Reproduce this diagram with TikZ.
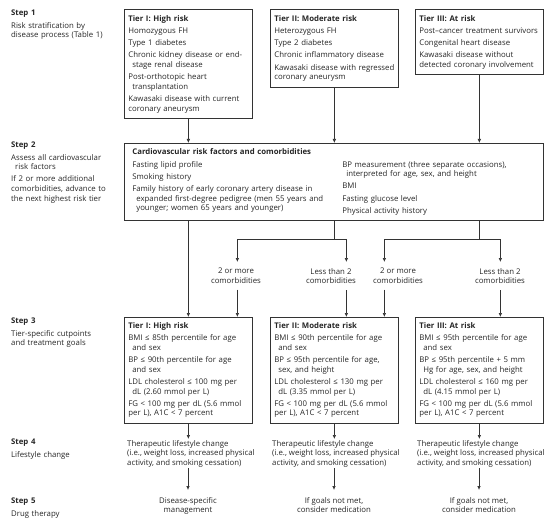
\documentclass[tikz,border=0pt]{standalone}
\usepackage{fontspec}
\setmainfont{Open Sans}
\usetikzlibrary{arrows.meta}
\newlength\itmgap
\setlength\itmgap{2.6bp}
\newcommand\itm{\par\vskip\itmgap\hangindent=4bp\hangafter=1\relax}
\newcommand\itmflat{\par\vskip\itmgap\relax}
\newcommand\boxfont{\fontsize{7.8bp}{9.6bp}\selectfont}
\tikzset{
  tierbox/.style={draw=black!80, line width=0.7bp, anchor=north west, align=left, text width=120bp, inner xsep=4bp, inner ysep=5.5bp, font=\boxfont, text=black!85},
  cvbox/.style={tierbox, text width=403bp, inner xsep=8bp},
  steplbl/.style={anchor=north west, align=left, text width=112bp, inner sep=0pt, font=\boxfont, text=black!85},
  choice/.style={anchor=north, align=center, inner xsep=0pt, inner ysep=6bp, font=\boxfont, text=black!85},
  lifestyle/.style={anchor=north west, align=left, inner xsep=0pt, inner ysep=1bp, font=\boxfont, text=black!85},
  drug/.style={anchor=north, align=center, inner xsep=0pt, inner ysep=7bp, font=\boxfont, text=black!85},
  flow/.style={-{Latex[length=4bp,width=3.6bp]}, draw=black!80, line width=0.7bp},
}
\begin{document}
\begin{tikzpicture}[x=1bp, y=-1bp]
  \useasboundingbox (0,0) rectangle (550,526);
  % step labels
  \node[steplbl] (s1) at (11,10) {\textbf{Step 1}\itmflat Risk stratification by\newline disease process (Table 1)};
  \node[steplbl] (s2) at (11,142) {\textbf{Step 2}\itm Assess all cardiovascular\newline risk factors\itm If 2 or more additional\newline comorbidities, advance to\newline the next highest risk tier};
  \node[steplbl] (s3) at (11,318) {\textbf{Step 3}\itmflat Tier-specific cutpoints\newline and treatment goals};
  \node[steplbl] (s4) at (11,439) {\textbf{Step 4}\itmflat Lifestyle change};
  \node[steplbl] (s5) at (11,498) {\textbf{Step 5}\itmflat Drug therapy};
  % step 1
  \node[tierbox] (r1) at (124,9.5) {\textbf{Tier I: High risk}\itm Homozygous FH\itm Type 1 diabetes\itm Chronic kidney disease or end-\newline stage renal disease\itm Post-orthotopic heart\newline transplantation\itm Kawasaki disease with current\newline coronary aneurysm};
  \node[tierbox] (r2) at (270,9.5) {\textbf{Tier II: Moderate risk}\itmflat Heterozygous FH\itmflat Type 2 diabetes\itmflat Chronic inflammatory disease\itmflat \mbox{Kawasaki disease with regressed}\newline coronary aneurysm};
  \node[tierbox] (r3) at (415,9.5) {\textbf{Tier III: At risk}\itmflat Post–cancer treatment survivors\itmflat Congenital heart disease\itmflat Kawasaki disease without\newline detected coronary involvement};
  % step 2
  \node[cvbox] (cv) at (124,143) {\textbf{Cardiovascular risk factors and comorbidities}\par\vskip\itmgap
    \noindent\parbox[t]{210bp}{\hangindent=4bp\hangafter=1 Fasting lipid profile\itm Smoking history\itm Family history of early coronary artery disease in\newline expanded first-degree pedigree (men 55 years and\newline younger; women 65 years and younger)}%
    \parbox[t]{190bp}{\hangindent=4bp\hangafter=1 BP measurement (three separate occasions),\newline interpreted for age, sex, and height\itm BMI\itm Fasting glucose level\itm Physical activity history}};
  % step 3
  \node[tierbox] (g1) at (124,317) {\textbf{Tier I: High risk}\itm BMI ≤ 85th percentile for age\newline and sex\itm BP ≤ 90th percentile for age\newline and sex\itm LDL cholesterol ≤ 100 mg per\newline dL (2.60 mmol per L)\itm FG < 100 mg per dL (5.6 mmol\newline per L), A1C < 7 percent};
  \node[tierbox] (g2) at (270,317) {\textbf{Tier II: Moderate risk}\itm BMI ≤ 90th percentile for age\newline and sex\itm BP ≤ 95th percentile for age,\newline sex, and height\itm LDL cholesterol ≤ 130 mg per\newline dL (3.35 mmol per L)\itm FG < 100 mg per dL (5.6 mmol\newline per L), A1C < 7 percent};
  \node[tierbox] (g3) at (415,317) {\textbf{Tier III: At risk}\itm BMI ≤ 95th percentile for age\newline and sex\itm BP ≤ 95th percentile + 5 mm\newline Hg for age, sex, and height\itm LDL cholesterol ≤ 160 mg per\newline dL (4.15 mmol per L)\itm FG < 100 mg per dL (5.6 mmol\newline per L), A1C < 7 percent};
  % comorbidity choices
  \node[choice] (m1) at (236,262) {2 or more\\comorbidities};
  \node[choice] (l2) at (331,262) {Less than 2\\comorbidities};
  \node[choice] (m2) at (398,262) {2 or more\\comorbidities};
  \node[choice] (l3) at (500,262) {Less than 2\\comorbidities};
  % steps 4 and 5
  \node[lifestyle] (t1) at (127,439) {Therapeutic lifestyle change\\(i.e., weight loss, increased physical\\activity, and smoking cessation)};
  \node[lifestyle] (t2) at (272,439) {Therapeutic lifestyle change\\(i.e., weight loss, increased physical\\activity, and smoking cessation)};
  \node[lifestyle] (t3) at (417,439) {Therapeutic lifestyle change\\(i.e., weight loss, increased physical\\activity, and smoking cessation)};
  \node[drug] (d1) at (188,490) {Disease-specific\\management};
  \node[drug] (d2) at (334,490) {If goals not met,\\consider medication};
  \node[drug] (d3) at (479,490) {If goals not met,\\consider medication};
  % entry points and branches
  \coordinate (e1) at ([xshift=49bp]g1.north);
  \coordinate (e2) at ([xshift=12bp]g2.north);
  \coordinate (e3) at ([xshift=50bp]g2.north);
  \coordinate (e4) at ([xshift=21bp]g3.north);
  \coordinate (b2) at ([yshift=-18bp]cv.south -| r2.south);
  \coordinate (b3) at ([yshift=-18bp]cv.south -| r3.south);
  \foreach \t in {r1,r2,r3}
    \draw[flow] (\t.south) -- (\t.south |- cv.north);
  \draw[flow] (cv.south -| g1.north) -- (g1.north);
  \draw[flow] (cv.south -| b2) -- (b2) -| (m1.north -| e1);
  \draw[flow] (b2) -| (l2.north -| e2);
  \draw[flow] (cv.south -| b3) -- (b3) -| (m2.north -| e3);
  \draw[flow] (b3) -| (l3.north -| e4);
  \draw[flow] (m1.south -| e1) -- (e1);
  \draw[flow] (l2.south -| e2) -- (e2);
  \draw[flow] (m2.south -| e3) -- (e3);
  \draw[flow] (l3.south -| e4) -- (e4);
  \foreach \g/\t/\d in {g1/t1/d1, g2/t2/d2, g3/t3/d3} {
    \draw[flow] (\g.south) -- (\g.south |- \t.north);
    \draw[flow] (\t.south -| \d.north) -- (\d.north);
  }
\end{tikzpicture}
\end{document}
